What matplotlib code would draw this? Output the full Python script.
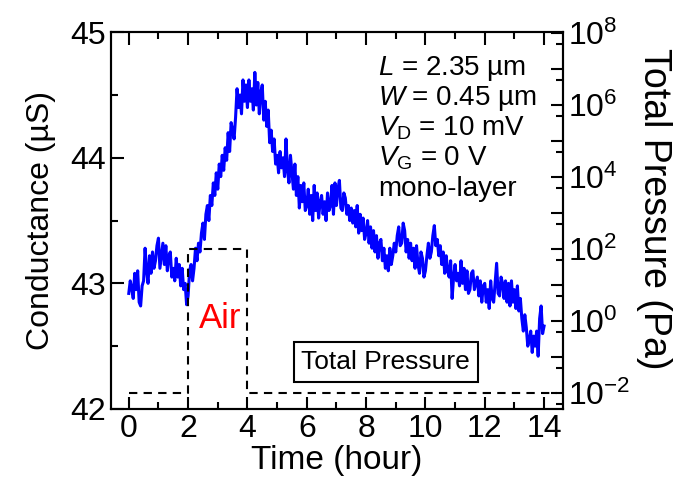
import numpy as np
import matplotlib
matplotlib.use('Agg')
import matplotlib.pyplot as plt
from matplotlib.ticker import MultipleLocator, LogLocator, FuncFormatter, NullFormatter

#fonts
plt.rcParams['font.family'] = ['Liberation Sans', 'DejaVu Sans']
plt.rcParams['mathtext.fontset'] = 'custom'
plt.rcParams['mathtext.rm'] = 'Liberation Sans'
plt.rcParams['mathtext.it'] = 'Liberation Sans:italic'

#conductance data, one value every 0.05 hour (10 values per row = 0.5 hour)
time = np.arange(0, 281) / 20.0
conductance = [
    42.92, 43.02, 42.96, 42.88, 43.08, 42.95, 43.10, 42.85, 42.82, 42.98,
    43.02, 43.28, 43.10, 43.00, 43.22, 43.08, 43.25, 43.12, 43.18, 43.30,
    43.36, 43.12, 43.22, 43.32, 43.15, 43.30, 43.10, 43.22, 43.25, 43.05,
    43.12, 43.02, 43.20, 43.05, 43.15, 42.98, 43.12, 42.95, 43.00, 42.83,
    42.90, 43.10, 43.15, 43.02, 43.12, 43.28, 43.18, 43.32, 43.25, 43.40,
    43.48, 43.35, 43.55, 43.62, 43.50, 43.70, 43.62, 43.80, 43.70, 43.88,
    43.75, 43.95, 43.85, 44.02, 43.90, 44.08, 43.98, 44.20, 44.05, 44.28,
    44.22, 44.15, 44.32, 44.55, 44.40, 44.50, 44.35, 44.62, 44.45, 44.58,
    44.40, 44.62, 44.45, 44.55, 44.38, 44.68, 44.42, 44.60, 44.35, 44.52,
    44.58, 44.30, 44.45, 44.25, 44.38, 44.12, 44.22, 44.05, 44.15, 43.95,
    44.02, 43.88, 44.05, 43.92, 44.00, 43.85, 44.15, 43.90, 43.80, 44.02,
    43.88, 43.75, 43.95, 43.70, 43.85, 43.60, 43.78, 43.65, 43.80, 43.58,
    43.62, 43.75, 43.55, 43.70, 43.50, 43.78, 43.58, 43.72, 43.52, 43.65,
    43.70, 43.55, 43.65, 43.50, 43.72, 43.58, 43.62, 43.78, 43.55, 43.80,
    43.62, 43.75, 43.82, 43.60, 43.58, 43.72, 43.68, 43.55, 43.62, 43.50,
    43.60, 43.48, 43.58, 43.45, 43.62, 43.40, 43.55, 43.42, 43.52, 43.35,
    43.40, 43.50, 43.32, 43.45, 43.28, 43.42, 43.25, 43.38, 43.20, 43.32,
    43.35, 43.18, 43.28, 43.12, 43.22, 43.10, 43.28, 43.15, 43.22, 43.32,
    43.25, 43.38, 43.45, 43.30, 43.32, 43.48, 43.42, 43.25, 43.35, 43.20,
    43.32, 43.18, 43.28, 43.12, 43.30, 43.15, 43.08, 43.25, 43.20, 43.05,
    43.10, 43.22, 43.32, 43.20, 43.25, 43.38, 43.46, 43.30, 43.35, 43.22,
    43.30, 43.15, 43.25, 43.08, 43.22, 43.10, 43.05, 43.18, 42.88, 43.05,
    43.15, 43.02, 43.08, 42.98, 43.18, 43.00, 43.12, 42.95, 43.10, 42.92,
    42.95, 43.08, 43.10, 42.95, 43.00, 43.05, 42.90, 43.02, 42.85, 42.98,
    43.00, 42.85, 42.95, 42.80, 43.02, 42.88, 42.85, 43.00, 43.16, 42.92,
    42.90, 43.05, 43.00, 42.88, 43.02, 42.85, 43.00, 42.82, 43.02, 42.85,
    42.95, 42.80, 42.98, 42.78, 42.88, 42.72, 42.62, 42.75, 42.65, 42.50,
    42.55, 42.62, 42.45, 42.58, 42.50, 42.62, 42.42, 42.72, 42.82, 42.60,
    42.66]

#pressure steps
t_pressure = [0, 2, 2, 4, 4, 14.45]
pressure = [1e-2, 1e-2, 1e2, 1e2, 1e-2, 1e-2]

#labels
info_lines = [r'$\mathit{L}$ = 2.35 µm',
              r'$\mathit{W}$ = 0.45 µm',
              r'$\mathit{V}_{\mathrm{D}}$ = 10 mV',
              r'$\mathit{V}_{\mathrm{G}}$ = 0 V',
              'mono-layer']

fig = plt.figure(figsize=(6.85, 4.88), dpi=100)
ax = fig.add_axes([0.162, 0.162, 0.66, 0.772])
ax2 = ax.twinx()

ax.plot(time, conductance, color='#0000ff', lw=2.2, zorder=3)
ax.set_xlim(-0.6, 14.64)
ax.set_ylim(42, 45)
ax.xaxis.set_major_locator(MultipleLocator(2))
ax.xaxis.set_minor_locator(MultipleLocator(1))
ax.yaxis.set_major_locator(MultipleLocator(1))
ax.yaxis.set_minor_locator(MultipleLocator(0.5))
ax.set_xlabel('Time (hour)', fontsize=24, labelpad=1)
ax.set_ylabel('Conductance (µS)', fontsize=23, labelpad=10)
ax.tick_params(which='both', direction='in', top=True, width=1.5, labelsize=23)
ax.tick_params(which='major', length=9)
ax.tick_params(which='minor', length=5)

#pressure on the right axis
ax2.plot(t_pressure, pressure, color='black', lw=1.5, ls=(0, (4, 3)))
ax2.set_yscale('log')
ax2.set_ylim(3.6e-3, 1.07e8)
ax2.yaxis.set_major_locator(LogLocator(base=10, numticks=20))
ax2.yaxis.set_minor_locator(LogLocator(base=10, subs=[5], numticks=20))
ax2.yaxis.set_minor_formatter(NullFormatter())
ax2.yaxis.set_major_formatter(FuncFormatter(
    lambda v, p: r'$10^{%d}$' % round(np.log10(v)) if round(np.log10(v)) % 2 == 0 else ''))
ax2.tick_params(which='both', direction='in', width=1.5, labelsize=23)
ax2.tick_params(which='major', length=9)
ax2.tick_params(which='minor', length=5)
fig.text(0.955, 0.572, 'Total Pressure (Pa)', fontsize=27, rotation=270,
         ha='center', va='center')

for sp in list(ax.spines.values()) + list(ax2.spines.values()):
    sp.set_linewidth(1.5)

#annotations
for i, s in enumerate(info_lines):
    ax.text(0.59, 0.886 - i * 0.08, s, transform=ax.transAxes, fontsize=20,
            ha='left', va='baseline')
ax.text(3.07, 42.72, 'Air', color='red', fontsize=25, ha='center', va='center')
ax.text(0.608, 0.125, 'Total Pressure', transform=ax.transAxes, fontsize=19,
        ha='center', va='center',
        bbox=dict(boxstyle='square,pad=0.3', fc='white', ec='black', lw=1.5))

fig.savefig('out.png', dpi=100)
